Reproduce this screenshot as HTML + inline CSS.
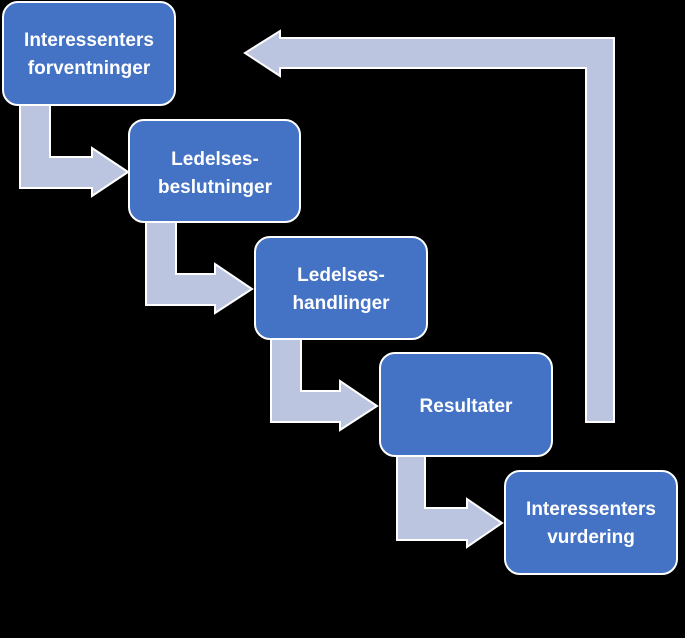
<!DOCTYPE html>
<html><head><meta charset="utf-8"><style>
html,body{margin:0;padding:0;background:#000;}
svg{display:block}
text{font-family:"Liberation Sans",sans-serif;font-weight:bold;font-size:19px;fill:#fff;text-anchor:middle}
</style></head><body>
<svg width="685" height="638" viewBox="0 0 685 638">
<rect width="685" height="638" fill="#000"/>
<g fill="#bcc5e0" stroke="#fff" stroke-width="2" stroke-linejoin="miter">
<path d="M20,105 L50,105 L50,157 L92,157 L92,148 L128,172 L92,196 L92,188 L20,188 Z"/>
<path d="M146,222 L176,222 L176,274 L215,274 L215,264 L252,289 L215,313 L215,305 L146,305 Z"/>
<path d="M271,339 L301,339 L301,391 L340,391 L340,381 L377,406 L340,430 L340,422 L271,422 Z"/>
<path d="M397,456 L425,456 L425,508 L467,508 L467,499 L502,523 L467,547 L467,540 L397,540 Z"/>
<path d="M586,422 L614,422 L614,38 L280,38 L280,31 L245,53 L280,76 L280,68 L586,68 Z"/>
</g>
<g fill="#4472c4" stroke="#fff" stroke-width="2">
<rect x="3" y="2" width="172" height="103" rx="15"/>
<rect x="129" y="120" width="171" height="102" rx="15"/>
<rect x="255" y="237" width="172" height="102" rx="15"/>
<rect x="380" y="353" width="172" height="103" rx="15"/>
<rect x="505" y="471" width="172" height="103" rx="15"/>
</g>
<text x="89" y="46">Interessenters</text>
<text x="89" y="74">forventninger</text>
<text x="215" y="165">Ledelses-</text>
<text x="215" y="193">beslutninger</text>
<text x="341" y="281">Ledelses-</text>
<text x="341" y="309">handlinger</text>
<text x="466" y="412">Resultater</text>
<text x="591" y="515">Interessenters</text>
<text x="591" y="543">vurdering</text>
</svg>
</body></html>
